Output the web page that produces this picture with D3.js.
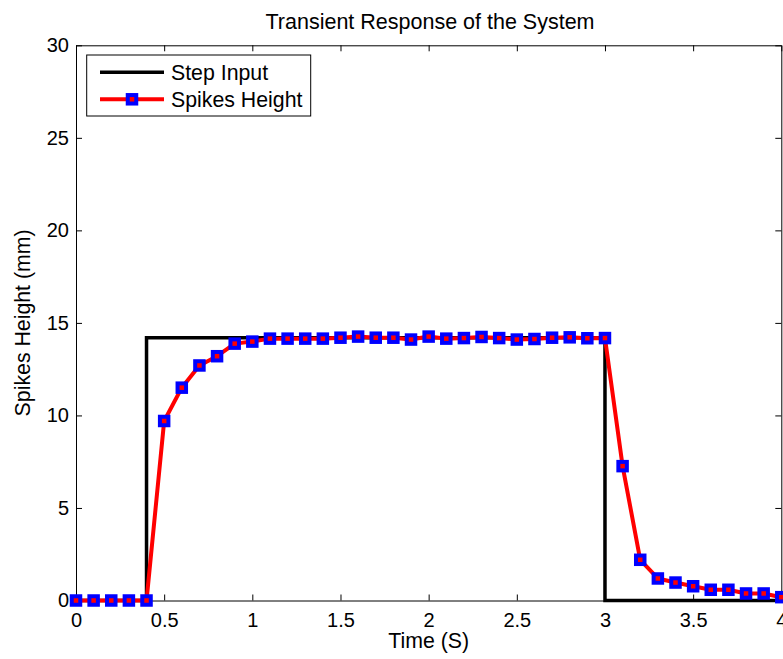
<!DOCTYPE html>
<html>
<head>
<meta charset="utf-8">
<script src="https://cdn.jsdelivr.net/npm/d3@7"></script>
<style>
  body { margin: 0; background: #fff; }
  text { font-family: "Liberation Sans", Arial, sans-serif; fill: #000; }
</style>
</head>
<body>
<div id="chart"></div>
<script>
// Data
var timeValues = [0, 0.1, 0.2, 0.3, 0.4, 0.5, 0.6, 0.7, 0.8, 0.9,
  1.0, 1.1, 1.2, 1.3, 1.4, 1.5, 1.6, 1.7, 1.8, 1.9,
  2.0, 2.1, 2.2, 2.3, 2.4, 2.5, 2.6, 2.7, 2.8, 2.9,
  3.0, 3.1, 3.2, 3.3, 3.4, 3.5, 3.6, 3.7, 3.8, 3.9, 4.0];
var spikesHeight = [0, 0, 0, 0, 0, 9.7, 11.5, 12.7, 13.2, 13.88,
  13.99, 14.15, 14.15, 14.15, 14.15, 14.2, 14.26, 14.2, 14.2, 14.1,
  14.26, 14.15, 14.18, 14.24, 14.18, 14.1, 14.13, 14.2, 14.22, 14.17,
  14.18, 7.26, 2.2, 1.19, 0.97, 0.77, 0.58, 0.58, 0.38, 0.38, 0.18];
var stepTime = [0, 0.4, 0.4, 3, 3, 4];
var stepInput = [0, 0, 14.2, 14.2, 0, 0];
var xTicks = [0, 0.5, 1, 1.5, 2, 2.5, 3, 3.5, 4];
var yTicks = [0, 5, 10, 15, 20, 25, 30];
var seriesNames = ["Step Input", "Spikes Height"];

// SVG area and margins
var svgWidth = 783;
var svgHeight = 659;
var margin = { top: 45.3, right: 1.7, bottom: 58.5, left: 76 };
var chartWidth = svgWidth - margin.left - margin.right;
var chartHeight = svgHeight - margin.top - margin.bottom;
var tickFont = 20;
var labelFont = 21.3;

var svg = d3.select("#chart")
  .append("svg")
  .attr("width", svgWidth)
  .attr("height", svgHeight);

svg.append("rect")
  .attr("width", svgWidth)
  .attr("height", svgHeight)
  .attr("fill", "#fff");

var chartGroup = svg.append("g")
  .attr("transform", `translate(${margin.left}, ${margin.top})`);

// Scales
var xScale = d3.scaleLinear().domain([0, 4]).range([0, chartWidth]);
var yScale = d3.scaleLinear().domain([0, 30]).range([chartHeight, 0]);

// Axes, ticks point inward like MATLAB
var bottomAxis = d3.axisBottom(xScale).tickValues(xTicks).tickSizeInner(-6).tickSizeOuter(0).tickPadding(12).tickFormat(d3.format("~g"));
var topAxis = d3.axisTop(xScale).tickValues(xTicks).tickSizeInner(-6).tickSizeOuter(0).tickFormat("");
var leftAxis = d3.axisLeft(yScale).tickValues(yTicks).tickSizeInner(-6).tickSizeOuter(0).tickPadding(7);
var rightAxis = d3.axisRight(yScale).tickValues(yTicks).tickSizeInner(-6).tickSizeOuter(0).tickFormat("");

function styleAxis(g) {
  g.selectAll("path.domain").attr("stroke", "#000").attr("stroke-width", 1);
  g.selectAll(".tick line").attr("stroke", "#000").attr("stroke-width", 1);
  g.selectAll(".tick text")
    .attr("font-size", tickFont)
    .attr("font-family", "Liberation Sans, Arial, sans-serif")
    .attr("fill", "#000");
}

chartGroup.append("g").attr("transform", `translate(0, ${chartHeight})`).call(bottomAxis).call(styleAxis);
chartGroup.append("g").call(topAxis).call(styleAxis);
chartGroup.append("g").call(leftAxis).call(styleAxis);
chartGroup.append("g").attr("transform", `translate(${chartWidth}, 0)`).call(rightAxis).call(styleAxis);

// Step input line
var stepLine = d3.line()
  .x((d, i) => xScale(stepTime[i]))
  .y(d => yScale(d));

chartGroup.append("path")
  .datum(stepInput)
  .attr("d", stepLine)
  .attr("fill", "none")
  .attr("stroke", "#000")
  .attr("stroke-width", 3.5)
  .attr("stroke-linejoin", "miter");

// Spikes height line
var spikeLine = d3.line()
  .x((d, i) => xScale(timeValues[i]))
  .y(d => yScale(d));

chartGroup.append("path")
  .datum(spikesHeight)
  .attr("d", spikeLine)
  .attr("fill", "none")
  .attr("stroke", "#ff0000")
  .attr("stroke-width", 4)
  .attr("stroke-linejoin", "round");

// Square markers
var markerSize = 8.5;
chartGroup.selectAll(".marker")
  .data(spikesHeight)
  .enter()
  .append("rect")
  .classed("marker", true)
  .attr("x", (d, i) => xScale(timeValues[i]) - markerSize / 2)
  .attr("y", d => yScale(d) - markerSize / 2)
  .attr("width", markerSize)
  .attr("height", markerSize)
  .attr("fill", "#ff0000")
  .attr("stroke", "#0000ff")
  .attr("stroke-width", 4);

// Title and axis labels
svg.append("text")
  .attr("x", 430)
  .attr("y", 29)
  .attr("text-anchor", "middle")
  .attr("font-size", 21.5)
  .text("Transient Response of the System");

svg.append("text")
  .attr("x", margin.left + chartWidth / 2)
  .attr("y", 648)
  .attr("text-anchor", "middle")
  .attr("font-size", labelFont)
  .text("Time (S)");

svg.append("text")
  .attr("transform", `translate(30, ${margin.top + chartHeight / 2}) rotate(-90)`)
  .attr("text-anchor", "middle")
  .attr("font-size", labelFont)
  .text("Spikes Height (mm)");

// Legend
var legend = svg.append("g");
legend.append("rect")
  .attr("x", 86.7)
  .attr("y", 55)
  .attr("width", 224)
  .attr("height", 61)
  .attr("fill", "#fff")
  .attr("stroke", "#000")
  .attr("stroke-width", 1);

var legendRows = [72.3, 99.3];
legend.append("line")
  .attr("x1", 100).attr("x2", 164)
  .attr("y1", legendRows[0]).attr("y2", legendRows[0])
  .attr("stroke", "#000").attr("stroke-width", 3.5);
legend.append("line")
  .attr("x1", 100).attr("x2", 164)
  .attr("y1", legendRows[1]).attr("y2", legendRows[1])
  .attr("stroke", "#ff0000").attr("stroke-width", 4);
legend.append("rect")
  .attr("x", 132 - markerSize / 2)
  .attr("y", legendRows[1] - markerSize / 2)
  .attr("width", markerSize)
  .attr("height", markerSize)
  .attr("fill", "#ff0000")
  .attr("stroke", "#0000ff")
  .attr("stroke-width", 4);

legend.selectAll(".legendText")
  .data(seriesNames)
  .enter()
  .append("text")
  .classed("legendText", true)
  .attr("x", 171)
  .attr("y", (d, i) => legendRows[i])
  .attr("dy", "0.35em")
  .attr("font-size", labelFont)
  .text(d => d);
</script>
</body>
</html>
